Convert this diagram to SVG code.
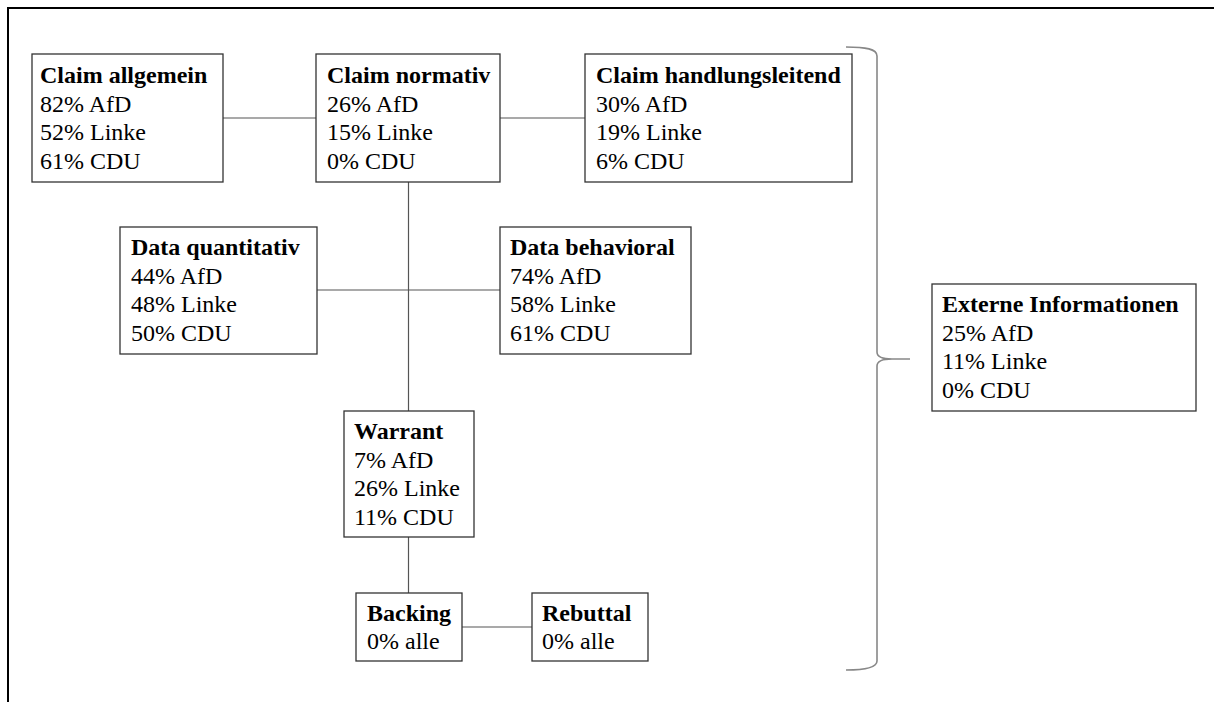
<svg xmlns="http://www.w3.org/2000/svg" width="1214" height="702" viewBox="0 0 1214 702">
<style>
  .box { fill: #ffffff; stroke: #333333; stroke-width: 1.3; }
  .t { font-family: "Liberation Serif", "Times New Roman", serif; font-size: 24px; fill: #000000; }
  .h { font-weight: bold; }
  .conn { stroke: #555555; stroke-width: 1.2; fill: none; }
  .brace { stroke: #888888; stroke-width: 1.6; fill: none; }
  .frame { stroke: #000000; stroke-width: 2; fill: none; }
</style>
<rect x="0" y="0" width="1214" height="702" fill="#ffffff"/>
<path class="frame" d="M8,702 L8,8 L1214,8"/>
<g id="connectors">
  <line class="conn" x1="223" y1="118" x2="316" y2="118"/>
  <line class="conn" x1="500" y1="118" x2="585" y2="118"/>
  <line class="conn" x1="408.5" y1="182" x2="408.5" y2="411"/>
  <line class="conn" x1="317" y1="290" x2="500" y2="290"/>
  <line class="conn" x1="408.5" y1="537" x2="408.5" y2="593"/>
  <line class="conn" x1="462" y1="627" x2="532" y2="627"/>
</g>
<g id="brace">
  <path class="brace" d="M846,47 C866,47 877,49 877,56 L877,352 C877,357 882,359 892,359 L910,359 M892,359 C882,359 877,361 877,366 L877,661 C877,667 866,670 846,670"/>
</g>
<g id="claim-allgemein">
  <rect class="box" x="32" y="54" width="191" height="128"/>
  <text class="t h" x="40" y="83">Claim allgemein</text>
  <text class="t" x="40" y="111.5">82% AfD</text>
  <text class="t" x="40" y="140">52% Linke</text>
  <text class="t" x="40" y="168.5">61% CDU</text>
</g>
<g id="claim-normativ">
  <rect class="box" x="316" y="54" width="184" height="128"/>
  <text class="t h" x="327" y="83">Claim normativ</text>
  <text class="t" x="327" y="111.5">26% AfD</text>
  <text class="t" x="327" y="140">15% Linke</text>
  <text class="t" x="327" y="168.5">0% CDU</text>
</g>
<g id="claim-handlungsleitend">
  <rect class="box" x="585" y="54" width="267" height="128"/>
  <text class="t h" x="596" y="83">Claim handlungsleitend</text>
  <text class="t" x="596" y="111.5">30% AfD</text>
  <text class="t" x="596" y="140">19% Linke</text>
  <text class="t" x="596" y="168.5">6% CDU</text>
</g>
<g id="data-quantitativ">
  <rect class="box" x="120" y="227" width="197" height="127"/>
  <text class="t h" x="131" y="255">Data quantitativ</text>
  <text class="t" x="131" y="283.5">44% AfD</text>
  <text class="t" x="131" y="312">48% Linke</text>
  <text class="t" x="131" y="340.5">50% CDU</text>
</g>
<g id="data-behavioral">
  <rect class="box" x="500" y="227" width="191" height="127"/>
  <text class="t h" x="510" y="255">Data behavioral</text>
  <text class="t" x="510" y="283.5">74% AfD</text>
  <text class="t" x="510" y="312">58% Linke</text>
  <text class="t" x="510" y="340.5">61% CDU</text>
</g>
<g id="warrant">
  <rect class="box" x="344" y="411" width="130" height="126"/>
  <text class="t h" x="354" y="439">Warrant</text>
  <text class="t" x="354" y="467.5">7% AfD</text>
  <text class="t" x="354" y="496">26% Linke</text>
  <text class="t" x="354" y="524.5">11% CDU</text>
</g>
<g id="backing">
  <rect class="box" x="356" y="593" width="106" height="68"/>
  <text class="t h" x="367" y="621">Backing</text>
  <text class="t" x="367" y="649">0% alle</text>
</g>
<g id="rebuttal">
  <rect class="box" x="532" y="593" width="116" height="68"/>
  <text class="t h" x="542" y="621">Rebuttal</text>
  <text class="t" x="542" y="649">0% alle</text>
</g>
<g id="externe-informationen">
  <rect class="box" x="932" y="284" width="264" height="127"/>
  <text class="t h" x="942" y="312">Externe Informationen</text>
  <text class="t" x="942" y="340.5">25% AfD</text>
  <text class="t" x="942" y="369">11% Linke</text>
  <text class="t" x="942" y="397.5">0% CDU</text>
</g>
</svg>
